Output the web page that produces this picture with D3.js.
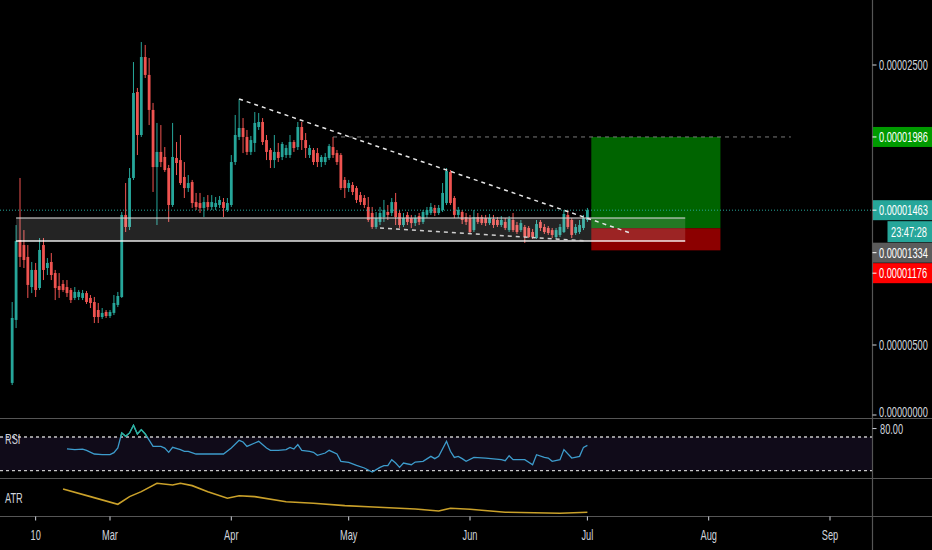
<!DOCTYPE html>
<html><head><meta charset="utf-8">
<script src="https://cdn.jsdelivr.net/npm/d3@7"></script>
<style>
html,body{margin:0;padding:0;background:#000;overflow:hidden}
svg{display:block}
</style>
</head>
<body>
<svg id="chart" width="932" height="550"></svg>
<script>
// ---------------- DATA (prices in satoshi units: 1 = 0.00000001) ----------------
const firstCandleDate = "2019-02-04";
const opens = [
 229,679,1250,1214,1129,914,1036,907,1214,1050,1093,1014,921,936,914,893,836,843,836,871,836,807,750,700,736,
 707,729,786,843,1429,1343,1693,2307,2000,2557,2429,2179,1771,1879,1843,1764,1500,1836,1821,1700,1621,1664,1521,1514,1479,1521,1486,1486,1500,1521,1464,
 1500,1807,1986,2050,1986,1879,1943,2057,2093,1964,1893,1821,1879,1843,1857,1857,1950,1914,2057,1964,1857,1893,1871,1807,1807,1836,1914,1871,1857,1679,
 1621,1643,1621,1571,1550,1486,1443,1343,1379,1414,1450,1443,1521,1443,1357,1429,1407,1371,1421,1379,1429,1443,1479,1443,1464,1514,1736,1550,1429,1450,1414,
 1407,1321,1414,1414,1407,1371,1400,1393,1357,1379,1321,1393,1357,1321,1343,1336,1307,1264,1379,1343,1336,1321,1271,1286,1307,1429,1393,1300,1307,1336,
 1393];
const highs = [
 807,1357,1693,1321,1214,1093,1086,1264,1264,1121,1157,1036,1014,964,964,907,914,893,893,886,857,843,800,764,750,
 750,857,879,1450,1657,1764,2521,2336,2664,2643,2550,2229,2086,2071,1914,1786,2086,1950,2000,1807,1714,1679,1586,1586,1557,1571,1571,1557,1564,1550,1550,
 1857,2143,2257,2121,2036,1993,2164,2157,2121,2000,1907,2000,1943,1950,1929,2000,1964,2093,2093,2014,1929,1907,1907,1857,1871,1936,1986,1893,1871,1700,
 1679,1664,1636,1593,1571,1557,1486,1450,1486,1536,1500,1550,1586,1464,1443,1450,1429,1429,1443,1464,1486,1514,1500,1500,1657,1764,1750,1564,1486,1464,1443,
 1429,1464,1443,1429,1429,1436,1429,1414,1421,1407,1421,1443,1379,1393,1357,1350,1329,1393,1393,1364,1350,1336,1336,1364,1464,1464,1407,1364,1393,1429,
 1479];
const lows = [
 214,621,1057,1050,836,871,843,893,964,1000,964,821,836,879,843,800,821,821,821,793,764,657,657,686,693,
 693,714,771,836,1307,1321,1679,1857,1986,2407,2071,1593,1357,1771,1736,1379,1486,1714,1643,1550,1593,1479,1464,1443,1414,1464,1464,1464,1479,1414,1450,
 1486,1786,1964,1871,1857,1857,1879,2036,1929,1821,1764,1764,1807,1821,1836,1836,1879,1893,1893,1836,1836,1786,1771,1771,1786,1821,1836,1786,1607,1550,
 1593,1571,1514,1500,1479,1379,1329,1329,1357,1379,1393,1421,1357,1336,1343,1357,1336,1350,1357,1364,1407,1429,1421,1429,1450,1500,1500,1407,1407,1364,1357,
 1300,1307,1364,1357,1350,1357,1336,1343,1343,1321,1307,1307,1293,1307,1229,1264,1257,1257,1314,1293,1286,1264,1257,1271,1300,1329,1264,1286,1293,1321,
 1379];
const closes = [
 693,1243,1129,1107,929,1036,893,1179,1036,1086,1000,907,893,893,871,821,879,879,871,807,800,700,700,729,707,
 736,800,850,1429,1343,1693,2300,2000,2557,2429,2179,1771,1879,1807,1750,1500,1843,1800,1657,1621,1657,1514,1486,1479,1521,1486,1521,1514,1536,1479,1514,
 1807,2000,2050,1986,1879,1964,2086,2093,1950,1879,1821,1879,1836,1936,1907,1950,1907,2057,1964,1907,1907,1807,1807,1843,1843,1921,1857,1807,1621,1621,
 1657,1593,1536,1521,1500,1393,1343,1407,1443,1464,1429,1521,1414,1357,1407,1379,1371,1407,1379,1450,1464,1486,1443,1479,1586,1743,1514,1429,1464,1393,1379,
 1307,1414,1379,1371,1371,1407,1357,1357,1393,1336,1400,1321,1307,1371,1271,1271,1271,1364,1336,1307,1300,1286,1321,1343,1436,1343,1286,1343,1357,1407,
 1463];

const rsiDates = ["2019-02-18","2019-02-20","2019-02-22","2019-02-23","2019-02-25","2019-02-27","2019-03-01","2019-03-02","2019-03-03","2019-03-04",
 "2019-03-05","2019-03-06","2019-03-07","2019-03-08","2019-03-09","2019-03-10","2019-03-12","2019-03-14","2019-03-15","2019-03-16",
 "2019-03-17","2019-03-19","2019-03-20","2019-03-21","2019-03-23","2019-03-26","2019-03-30","2019-04-01","2019-04-03","2019-04-04",
 "2019-04-05","2019-04-07","2019-04-08","2019-04-10","2019-04-11","2019-04-13","2019-04-15","2019-04-16","2019-04-17","2019-04-18",
 "2019-04-19","2019-04-21","2019-04-22","2019-04-23","2019-04-25","2019-04-26","2019-04-28","2019-04-29","2019-05-01","2019-05-03",
 "2019-05-05","2019-05-07","2019-05-09","2019-05-10","2019-05-11","2019-05-12","2019-05-13","2019-05-14","2019-05-15","2019-05-17",
 "2019-05-18","2019-05-20","2019-05-22","2019-05-23","2019-05-24","2019-05-26","2019-05-27","2019-05-28","2019-05-29","2019-05-30",
 "2019-05-31","2019-06-02","2019-06-05","2019-06-09","2019-06-10","2019-06-11","2019-06-12","2019-06-15","2019-06-17","2019-06-18",
 "2019-06-20","2019-06-21","2019-06-22","2019-06-24","2019-06-25","2019-06-27","2019-06-29","2019-06-30","2019-07-01"];
const rsiValues = [56,55,55.7,54.2,49.8,49,49,51.4,56.9,74.8,
 70.8,74.8,83.9,73.6,78.7,73.6,58.9,58.9,56.9,51.8,
 57.7,55,53,53,49.8,49.8,49.8,56.9,66,64.1,
 58.9,62.9,64.9,56.9,54.2,54.2,55,57.7,55.7,60.9,
 54.2,53,51.8,48.2,51,54.2,49.8,41.1,39.9,36.3,
 33.2,28.4,34,36,36,43.1,39.1,34,39.1,37.1,
 40.3,41.1,47,44.3,47,64.9,53,45.8,47,44.3,
 41.1,45.8,45,43.1,41.9,47.8,43.1,43.1,37.1,49,
 45.8,45,41.1,43.1,55,45,47,57.7,60.1];
const rsiLevels = [70, 30];
const rsiTickValues = [80];

const atrDates = ["2019-02-17","2019-02-24","2019-03-03","2019-03-06","2019-03-09","2019-03-13","2019-03-17","2019-03-19","2019-03-22","2019-03-26",
 "2019-03-31","2019-04-03","2019-04-07","2019-04-15","2019-04-22","2019-04-30","2019-05-06","2019-05-18","2019-05-24","2019-05-27",
 "2019-06-01","2019-06-10","2019-06-24","2019-07-01"];
const atrValues = [355,272,189,272,326,417,398,417,391,326,
 254,282,272,217,200,174,163,138,117,146,
 135,103,92,103];

const priceTickValues = [0, 500, 1000, 1500, 2000, 2500];
const timeTickDates = ["2019-02-10","2019-03-01","2019-04-01","2019-05-01","2019-06-01","2019-07-01","2019-08-01","2019-09-01"];
const timeTickLabels = ["10","Mar","Apr","May","Jun","Jul","Aug","Sep"];

// drawings
const zone = {start:"2019-02-05", end:"2019-07-26", top:1407, bottom:1243};
const position = {start:"2019-07-02", end:"2019-08-04", entry:1334, target:1986, stop:1176};
const upperTrend = {dates:["2019-04-03","2019-07-12"], prices:[2257,1300]};
const lowerTrend = {dates:["2019-05-09","2019-07-01"], prices:[1336,1243]};
const targetLine = {dates:["2019-04-27","2019-08-22"], prices:[1986,1986]};
const lastPrice = 1463;
const countdownText = "23:47:28";
const priceLabels = [
  {value:1986, bg:"#009a00"},
  {value:1463, bg:"#26a69a", countdown:true},
  {value:1334, bg:"#5b5b5b"},
  {value:1176, bg:"#ff0000"}
];

// ---------------- DRAWING ----------------
const W = 932, H = 550, AXX = 872.5;
const MAIN_BOTTOM = 418.5, RSI_BOTTOM = 478.5, ATR_BOTTOM = 516.5;
const UP = "#26a69a", DOWN = "#ef5350", TXT = "#d1d4dc";
const FONT = "'Liberation Sans', Arial, sans-serif";
const SX = 0.67, FS = 13.8;

const parseD = d3.utcParse("%Y-%m-%d");
const svg = d3.select("#chart");
svg.append("rect").attr("width", W).attr("height", H).attr("fill", "#000");

const x = d3.scaleUtc().domain([parseD("2019-03-01"), parseD("2019-09-01")]).range([110, 830]);
const y = d3.scaleLinear().domain([0, 2500]).range([415, 65]);
const yRsi = d3.scaleLinear().domain([30, 70]).range([470.7, 437]);
const yAtr = d3.scaleLinear().domain([62, 463]).range([516, 479]);
const fmtPrice = v => d3.format(".8f")(v * 1e-8);

const d0 = parseD(firstCandleDate);
const candles = opens.map((o, i) => ({
  date: d3.utcDay.offset(d0, i), o, h: highs[i], l: lows[i], c: closes[i]
}));

function ctext(parent, tx, ty, str, fill, size) {
  return parent.append("text")
    .attr("transform", `translate(${tx},${ty}) scale(${SX},1)`)
    .attr("dominant-baseline", "central")
    .attr("font-family", FONT).attr("font-size", size || FS)
    .attr("fill", fill).text(str);
}

const defs = svg.append("defs");
defs.append("clipPath").attr("id", "mainClip").append("rect")
  .attr("x", 0).attr("y", 0).attr("width", AXX).attr("height", MAIN_BOTTOM - 0.5);
defs.append("clipPath").attr("id", "rsiHigh").append("rect")
  .attr("x", 0).attr("y", MAIN_BOTTOM).attr("width", AXX).attr("height", yRsi(70) - MAIN_BOTTOM);

const main = svg.append("g").attr("clip-path", "url(#mainClip)");

// candles
const cg = main.append("g");
cg.selectAll("line.wick").data(candles).join("line")
  .attr("x1", d => x(d.date)).attr("x2", d => x(d.date))
  .attr("y1", d => y(d.h)).attr("y2", d => y(d.l))
  .attr("stroke", d => d.c >= d.o ? UP : DOWN).attr("stroke-width", 1);
cg.selectAll("rect.body").data(candles).join("rect")
  .attr("x", d => x(d.date) - 1.4).attr("width", 2.8)
  .attr("y", d => y(Math.max(d.o, d.c)))
  .attr("height", d => Math.max(1, Math.abs(y(d.o) - y(d.c))))
  .attr("fill", d => d.c >= d.o ? UP : DOWN);

// long position tool
const px0 = x(parseD(position.start)), px1 = x(parseD(position.end));
main.append("rect").attr("x", px0).attr("width", px1 - px0)
  .attr("y", y(position.target)).attr("height", y(position.entry) - y(position.target))
  .attr("fill", "#006400");
main.append("rect").attr("x", px0).attr("width", px1 - px0)
  .attr("y", y(position.entry)).attr("height", y(position.stop) - y(position.entry))
  .attr("fill", "#8c0000");

// support zone
const zx0 = x(parseD(zone.start)), zx1 = x(parseD(zone.end));
main.append("rect").attr("x", zx0).attr("width", zx1 - zx0)
  .attr("y", y(zone.top)).attr("height", y(zone.bottom) - y(zone.top))
  .attr("fill", "rgba(255,255,255,0.14)");
main.append("line").attr("x1", zx0).attr("x2", zx1).attr("y1", y(zone.top)).attr("y2", y(zone.top))
  .attr("stroke", "rgba(210,210,210,0.75)").attr("stroke-width", 1.5);
main.append("line").attr("x1", zx0).attr("x2", zx1).attr("y1", y(zone.bottom)).attr("y2", y(zone.bottom))
  .attr("stroke", "rgba(255,255,255,0.9)").attr("stroke-width", 1.5);

// trend lines
const lineGen = d3.line().x(d => x(d[0])).y(d => y(d[1]));
function drawLine(obj, color, width, dash) {
  const pts = obj.dates.map((d, i) => [parseD(d), obj.prices[i]]);
  main.append("path").attr("d", lineGen(pts)).attr("fill", "none")
    .attr("stroke", color).attr("stroke-width", width).attr("stroke-dasharray", dash);
}
drawLine(targetLine, "#7a7a7a", 1, "4,4");
drawLine(upperTrend, "#e6e6e6", 1.5, "4,4");
drawLine(lowerTrend, "#cfcfcf", 1.5, "4,4");

// last price dotted line
main.append("line").attr("x1", 0).attr("x2", AXX).attr("y1", y(lastPrice)).attr("y2", y(lastPrice))
  .attr("stroke", UP).attr("stroke-width", 1).attr("stroke-dasharray", "1,2");

// ---------------- RSI pane ----------------
const rsiG = svg.append("g");
rsiG.append("rect").attr("x", 0).attr("width", AXX).attr("y", yRsi(rsiLevels[0]))
  .attr("height", yRsi(rsiLevels[1]) - yRsi(rsiLevels[0])).attr("fill", "rgba(126,87,194,0.13)");
rsiG.selectAll("line.lvl").data(rsiLevels).join("line")
  .attr("x1", 0).attr("x2", AXX).attr("y1", d => yRsi(d)).attr("y2", d => yRsi(d))
  .attr("stroke", "#c8c8c8").attr("stroke-width", 1.3).attr("stroke-dasharray", "3,3");
const rsiPts = rsiDates.map((d, i) => [parseD(d), rsiValues[i]]);
const rsiLine = d3.line().x(d => x(d[0])).y(d => yRsi(d[1]));
rsiG.append("path").attr("d", rsiLine(rsiPts)).attr("fill", "none")
  .attr("stroke", "#3d9ccc").attr("stroke-width", 1.3);
rsiG.append("path").attr("d", rsiLine(rsiPts)).attr("fill", "none").attr("clip-path", "url(#rsiHigh)")
  .attr("stroke", "#2bb39a").attr("stroke-width", 1.3);
ctext(rsiG, 5, yRsi(rsiLevels[0]) + 2, "RSI", TXT);

// ---------------- ATR pane ----------------
const atrG = svg.append("g");
const atrPts = atrDates.map((d, i) => [parseD(d), atrValues[i]]);
atrG.append("path").attr("d", d3.line().x(d => x(d[0])).y(d => yAtr(d[1]))(atrPts))
  .attr("fill", "none").attr("stroke", "#caa12a").attr("stroke-width", 1.6);
ctext(atrG, 5, 498, "ATR", TXT);

// ---------------- separators ----------------
const sep = svg.append("g").attr("stroke", "#555").attr("stroke-width", 1.2);
[MAIN_BOTTOM, RSI_BOTTOM, ATR_BOTTOM].forEach(v =>
  sep.append("line").attr("x1", 0).attr("x2", W).attr("y1", v).attr("y2", v));
sep.append("line").attr("x1", AXX).attr("x2", AXX).attr("y1", 0).attr("y2", H);

// ---------------- price labels (stacked) ----------------
const BOXH = 20, CDH = 21;
let cursor = -Infinity;
const placed = priceLabels.map(l => {
  const top = Math.max(y(l.value) - BOXH / 2, cursor);
  cursor = top + BOXH + (l.countdown ? CDH + 1 : 0) + 0.5;
  return Object.assign({}, l, {top});
});

// price axis ticks (hidden when overlapped by a label)
const axG = svg.append("g");
const visibleTicks = priceTickValues.filter(v =>
  placed.every(p => Math.abs(y(v) - (p.top + BOXH / 2)) > 22));
axG.selectAll("line.pt").data(visibleTicks).join("line")
  .attr("x1", AXX).attr("x2", AXX + 4).attr("y1", d => y(d)).attr("y2", d => y(d))
  .attr("stroke", TXT).attr("stroke-width", 1);
visibleTicks.forEach(v => {
  if (y(v) < MAIN_BOTTOM - 3) ctext(axG, 879, y(v) - (v === 0 ? 3 : 0), fmtPrice(v), TXT);
});
// rsi axis tick
rsiTickValues.forEach(v => {
  axG.append("line").attr("x1", AXX).attr("x2", AXX + 4).attr("y1", yRsi(v)).attr("y2", yRsi(v))
    .attr("stroke", TXT);
  ctext(axG, 880, yRsi(v), d3.format(".2f")(v), TXT);
});

placed.forEach(p => {
  axG.append("rect").attr("x", AXX + 0.5).attr("y", p.top).attr("width", W - AXX).attr("height", BOXH)
    .attr("fill", p.bg);
  axG.append("line").attr("x1", AXX).attr("x2", AXX + 4).attr("y1", p.top + BOXH / 2).attr("y2", p.top + BOXH / 2)
    .attr("stroke", "#fff");
  ctext(axG, 879, p.top + BOXH / 2, fmtPrice(p.value), "#fff");
  if (p.countdown) {
    axG.append("rect").attr("x", 887.5).attr("y", p.top + BOXH + 1).attr("width", W - 887.5).attr("height", CDH)
      .attr("fill", p.bg);
    ctext(axG, 891, p.top + BOXH + 1 + CDH / 2, countdownText, "#fff");
  }
});

// ---------------- time axis ----------------
const tG = svg.append("g");
const tTicks = timeTickDates.map((d, i) => ({date: parseD(d), label: timeTickLabels[i]}));
tG.selectAll("line.tt").data(tTicks).join("line")
  .attr("x1", d => x(d.date)).attr("x2", d => x(d.date))
  .attr("y1", ATR_BOTTOM).attr("y2", ATR_BOTTOM + 4).attr("stroke", TXT);
tTicks.forEach(t => {
  ctext(tG, x(t.date), 535, t.label, TXT).attr("text-anchor", "middle");
});
</script>
</body></html>
